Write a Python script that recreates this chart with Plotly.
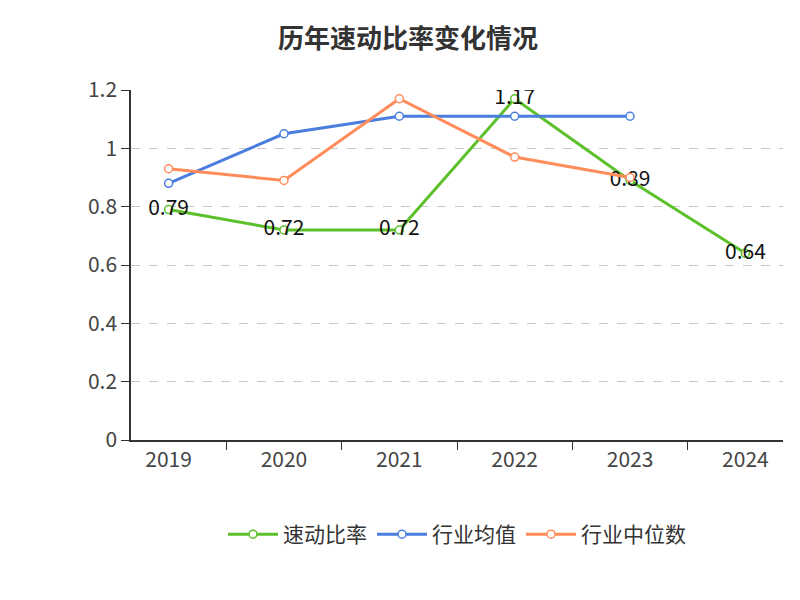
import plotly.graph_objects as go

years = ["2019", "2020", "2021", "2022", "2023", "2024"]
quick = [0.79, 0.72, 0.72, 1.17, 0.89, 0.64]
ind_avg = [0.88, 1.05, 1.11, 1.11, 1.11, None]
ind_med = [0.93, 0.89, 1.17, 0.97, 0.90, None]

fig = go.Figure()
fig.add_trace(go.Scatter(x=years, y=quick, name="速动比率", mode="lines+markers+text",
    text=[f"{v:.2f}" for v in quick], textposition="middle center",
    textfont=dict(size=21, color="#111"),
    line=dict(color="#5cc02a", width=3), marker=dict(size=8, color="white", line=dict(color="#5cc02a", width=1.5))))
fig.add_trace(go.Scatter(x=years, y=ind_avg, name="行业均值", mode="lines+markers",
    line=dict(color="#4a7ede", width=3), marker=dict(size=8, color="white", line=dict(color="#4a7ede", width=1.5))))
fig.add_trace(go.Scatter(x=years, y=ind_med, name="行业中位数", mode="lines+markers",
    line=dict(color="#ff8c5a", width=3), marker=dict(size=8, color="white", line=dict(color="#ff8c5a", width=1.5))))

fig.update_layout(
    width=800, height=600, plot_bgcolor="white", paper_bgcolor="white",
    font=dict(family="Noto Sans CJK SC", color="#333"),
    title=dict(text="<b>历年速动比率变化情况</b>", x=0.5, y=0.963, font=dict(size=26, color="#333")),
    margin=dict(l=123, r=25, t=82, b=168),
    xaxis=dict(type="category", tickson="boundaries", ticks="outside", ticklen=8, tickcolor="#333",
               showline=True, linecolor="#333", linewidth=1.5, showgrid=False,
               tickfont=dict(size=21, color="#444")),
    yaxis=dict(range=[0, 1.2], dtick=0.2, ticks="outside", ticklen=8, tickcolor="#333",
               showline=True, linecolor="#333", linewidth=1.5,
               gridcolor="#c8c8c8", griddash="dash", zeroline=False,
               tickfont=dict(size=21, color="#444")),
    legend=dict(orientation="h", x=0.5, xanchor="center", y=-0.27, yanchor="middle",
                itemwidth=50, font=dict(size=21, color="#333")),
    annotations=[dict(text="制图数据来自恒生聚源数据库", x=0.5, xref="paper", y=-0.49, yref="paper",
                      yanchor="middle", showarrow=False, font=dict(size=15, color="#c8961e"))],
)
fig.write_html("out.html")
